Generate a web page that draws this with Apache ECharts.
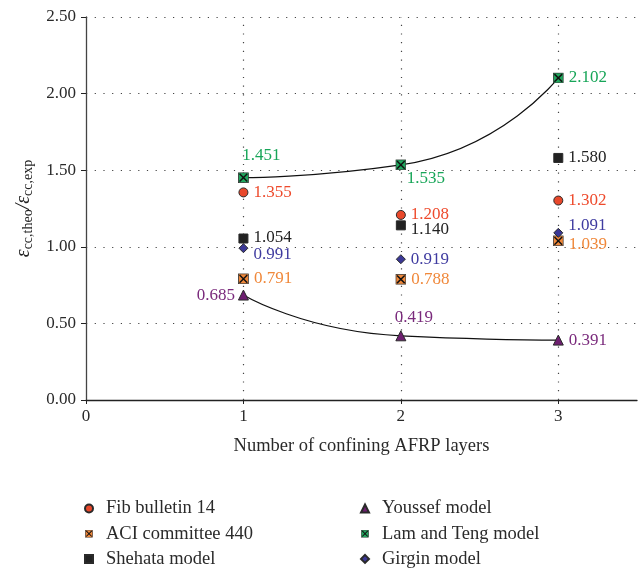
<!DOCTYPE html>
<html><head><meta charset="utf-8">
<script src="https://cdn.jsdelivr.net/npm/echarts@6/dist/echarts.min.js"></script>
<style>html,body{margin:0;padding:0;background:#fff}#c{width:642px;height:574px}</style>
</head><body><div id="c"></div>
<script>
const layers = [1, 2, 3];
const fib = [1.355, 1.208, 1.302];
const aci = [0.791, 0.788, 1.039];
const shehata = [1.054, 1.140, 1.580];
const youssef = [0.685, 0.419, 0.391];
const lamTeng = [1.451, 1.535, 2.102];
const girgin = [0.991, 0.919, 1.091];
const yTicks = [0, 0.5, 1, 1.5, 2, 2.5];
const xTicks = [0, 1, 2, 3];

const FONT = '"Liberation Serif", "DejaVu Serif", serif';
function svgSym(fill) {
  const s = '<svg xmlns="http://www.w3.org/2000/svg" width="20" height="20" viewBox="0 0 20 20">' +
    '<rect x="1" y="1" width="18" height="18" fill="' + fill + '" stroke="#333" stroke-width="1.5"/>' +
    '<path d="M3 3 L17 17 M17 3 L3 17" stroke="#111" stroke-width="2.6"/></svg>';
  return 'image://data:image/svg+xml;charset=utf-8,' + encodeURIComponent(s);
}
const C = {
  fib: '#E8482B', fibL: '#EE4A2C',
  aci: '#F0883A', aciL: '#F0883A',
  she: '#222222', sheL: '#222222',
  you: '#6E1F70', youL: '#7A2A7C',
  lam: '#1FA85E', lamL: '#17A558',
  gir: '#3B3896', girL: '#3F3BA0'
};
function pts(vals, lbl, color) {
  return vals.map((v, i) => {
    const l = lbl[i] || {};
    return {
      value: [layers[i], v],
      label: Object.assign({
        show: true, position: 'right', distance: 5,
        formatter: (p) => p.value[1].toFixed(3),
        color: color, fontFamily: FONT, fontSize: 17
      }, l)
    };
  });
}
function scatter(name, vals, symbol, size, color, lcolor, lbl) {
  return {
    type: 'scatter', name: name, symbol: symbol, symbolSize: size,
    itemStyle: { color: color, borderColor: '#2a2a2a', borderWidth: 1, opacity: 1 },
    data: pts(vals, lbl, lcolor), z: 5
  };
}
const gridStyle = { color: '#444', width: 1.2, type: [1.2, 7.5] };
const series = [
  { type: 'line', data: layers.map((x, i) => [x, lamTeng[i]]), smooth: 0.6, showSymbol: false, silent: true,
    lineStyle: { color: '#111', width: 1.2 }, z: 2,
    markLine: { silent: true, symbol: 'none', label: { show: false }, lineStyle: gridStyle,
      data: xTicks.filter(v => v > 0).map(v => ({ xAxis: v })) } },
  { type: 'line', data: layers.map((x, i) => [x, youssef[i]]), smooth: 0.6, showSymbol: false, silent: true,
    lineStyle: { color: '#111', width: 1.2 }, z: 2 },
  scatter('Fib bulletin 14', fib, 'circle', 9, C.fib, C.fibL, [{}, {}, {}]),
  scatter('ACI committee 440', aci, svgSym(C.aci), 11, C.aci, C.aciL, [{}, {}, { offset: [0, 4] }]),
  scatter('Shehata model', shehata, 'rect', 9, C.she, C.sheL, [{ offset: [0, -1] }, { offset: [0, 4] }, {}]),
  scatter('Youssef model', youssef, 'triangle', 10, C.you, C.youL, [{ position: 'left', distance: 3 }, { position: 'top', distance: 4, offset: [13, 0] }, {}]),
  scatter('Lam and Teng model', lamTeng, svgSym(C.lam), 11, C.lam, C.lamL, [{ position: 'top', distance: 8, offset: [18, 0] }, { position: 'bottom', distance: 0, offset: [25, 0] }, {}]),
  scatter('Girgin model', girgin, 'diamond', 9, C.gir, C.girL, [{ offset: [0, 6] }, {}, { offset: [0, -7] }])
];
const legendText = { fontFamily: FONT, fontSize: 18.5, lineHeight: 19, color: '#2a2a2a', padding: [0, 0, 0, 8] };
const legendCommon = { orient: 'vertical', top: 499, height: 75, padding: 0,
  itemWidth: 8, itemHeight: 8, itemGap: 6.2, textStyle: legendText };
const option = {
  animation: false,
  backgroundColor: '#fff',
  grid: { left: 86, right: 5, top: 17, bottom: 174, outerBoundsMode: 'none', containLabel: false },
  legend: [
    Object.assign({ data: ['Fib bulletin 14', 'ACI committee 440', 'Shehata model'], left: 84 }, legendCommon),
    Object.assign({ data: ['Youssef model', 'Lam and Teng model', 'Girgin model'], left: 360 }, legendCommon)
  ],
  xAxis: {
    type: 'value', min: 0, max: 3.5, interval: 1,
    name: 'Number of confining AFRP layers', nameLocation: 'middle', nameGap: 37,
    nameTextStyle: { fontFamily: FONT, fontSize: 18.5, color: '#2a2a2a' },
    axisLine: { show: true, lineStyle: { color: '#222', width: 1.3 } },
    axisTick: { show: true, length: 4, lineStyle: { color: '#222' } },
    axisLabel: { fontFamily: FONT, fontSize: 17, color: '#2a2a2a', margin: 8, showMaxLabel: false,
      formatter: (v) => xTicks.includes(v) ? String(v) : '' },
    splitLine: { show: false }
  },
  yAxis: {
    type: 'value', min: 0, max: 2.5, interval: 0.5,
    name: '{e|ε}{s|cc,theo}{e|/ε}{s|cc,exp}', nameLocation: 'middle', nameGap: 50, nameRotate: 90,
    nameTextStyle: { fontFamily: FONT, color: '#222',
      rich: { e: { fontFamily: FONT, fontSize: 20, fontStyle: 'italic', color: '#222' },
              s: { fontFamily: FONT, fontSize: 14, color: '#222', padding: [9, 0, 0, 0] } } },
    axisLine: { show: true, lineStyle: { color: '#444', width: 1.3 } },
    axisTick: { show: true, length: 5, lineStyle: { color: '#222' } },
    axisLabel: { fontFamily: FONT, fontSize: 17, color: '#2a2a2a', margin: 10,
      formatter: (v) => yTicks.includes(v) ? v.toFixed(2) : '' },
    splitLine: { show: true, lineStyle: gridStyle }
  },
  series: series
};
const chart = echarts.init(document.getElementById('c'), null, { renderer: 'canvas' });
chart.setOption(option);
</script></body></html>
